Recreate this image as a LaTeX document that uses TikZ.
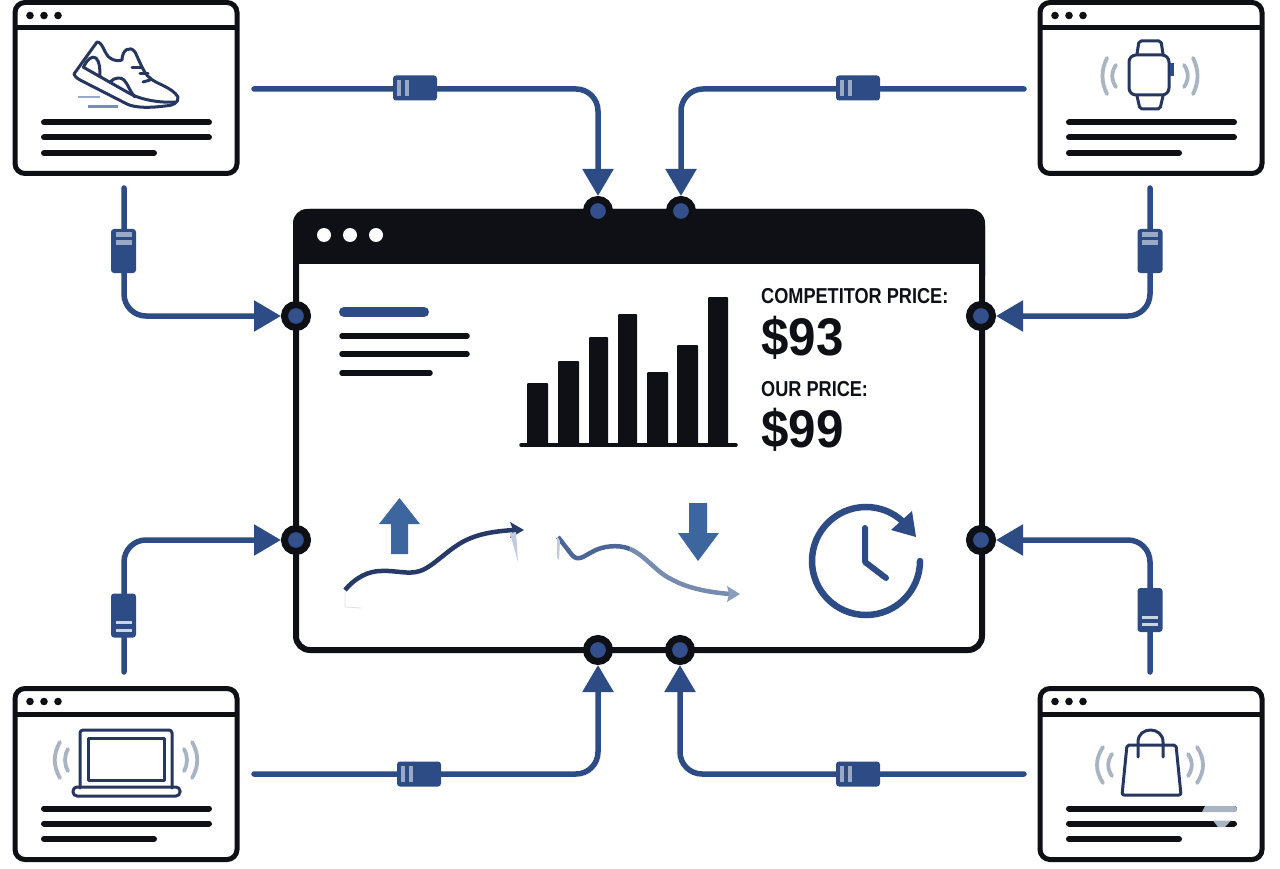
\documentclass[tikz,border=0pt]{standalone}
\usepackage{fontspec}
\setmainfont{Liberation Sans}
\newfontfamily\labelfont[FakeStretch=0.84]{Liberation Sans}
\newfontfamily\pricefont[FakeStretch=0.93]{Liberation Sans}
\usetikzlibrary{arrows.meta}
\definecolor{ink}{HTML}{0E1015}
\definecolor{navy}{HTML}{2D4C85}
\definecolor{portblue}{HTML}{34508C}
\definecolor{steel}{HTML}{3D669F}
\definecolor{iconblue}{HTML}{26365F}
\definecolor{wave}{HTML}{A9B4C2}
\definecolor{barlight}{HTML}{9AA9C6}
\tikzstyle{window} = [
    rectangle,
    rounded corners=10pt,
    minimum width=222pt,
    minimum height=171pt,
    line width=5pt,
    draw=ink
]
\tikzstyle{mainwindow} = [
    rectangle,
    rounded corners=14pt,
    minimum width=686pt,
    minimum height=438pt,
    line width=6pt,
    draw=ink
]
\tikzstyle{port} = [
    circle,
    inner sep=0pt,
    minimum size=23pt,
    line width=7pt,
    draw=ink,
    fill=portblue
]
\tikzstyle{plugv} = [
    rectangle,
    rounded corners=3pt,
    minimum width=25pt,
    minimum height=44pt,
    fill=navy
]
\tikzstyle{plugh} = [
    rectangle,
    rounded corners=3pt,
    minimum width=44pt,
    minimum height=25pt,
    fill=navy
]
\tikzstyle{plugbar} = [fill=barlight]
\tikzstyle{plugbarpale} = [fill=barlight!50!white]
\tikzstyle{link} = [
    line width=5.5pt,
    draw=navy,
    rounded corners=22pt,
    line cap=round,
    -{Triangle[length=27pt,width=30pt]}
]
\tikzstyle{textline} = [line width=6pt,draw=ink,line cap=round]
\tikzstyle{bodyline} = [line width=5.5pt,draw=ink,line cap=round]
\tikzstyle{icon} = [line width=3pt,draw=iconblue,line cap=round,line join=round]
\tikzstyle{waveline} = [line width=3.8pt,draw=wave,line cap=round]
\tikzstyle{bar} = [fill=ink,rounded corners=1pt]
\tikzstyle{caption} = [anchor=base west,inner sep=0pt,text=ink]
\newcommand{\pagewin}[3]{
    \node (#1) [window] at (#2,#3) {};
    \draw [line width=5pt,draw=ink] (#2-111,#3-60) -- (#2+111,#3-60);
    \foreach \dotx in {-96,-82,-68}
        \fill [ink] (#2+\dotx,#3-72.5) circle (3.8pt);
    \draw [textline] (#2-82,#3+34.5) -- (#2+83,#3+34.5);
    \draw [textline] (#2-82,#3+49.5) -- (#2+83,#3+49.5);
    \draw [textline] (#2-82,#3+65) -- (#2+28,#3+65);
}
\newcommand{\wavepair}[6]{
    \draw [waveline] (#1-#3,#2-18) .. controls (#1-#3-#4,#2-6) and (#1-#3-#4,#2+6) .. (#1-#3,#2+18);
    \draw [waveline] (#1-#5,#2-11) .. controls (#1-#5-#6,#2-4) and (#1-#5-#6,#2+4) .. (#1-#5,#2+11);
    \draw [waveline] (#1+#3,#2-18) .. controls (#1+#3+#4,#2-6) and (#1+#3+#4,#2+6) .. (#1+#3,#2+18);
    \draw [waveline] (#1+#5,#2-11) .. controls (#1+#5+#6,#2-4) and (#1+#5+#6,#2+4) .. (#1+#5,#2+11);
}
\begin{document}
\begin{tikzpicture}[x=1pt,y=-1pt]

\useasboundingbox (0,0) rectangle (1280,869);

\fill [white] (0,0) rectangle (1280,869);

\pagewin{shoewin}{126}{88}
\pagewin{watchwin}{1151}{88}
\pagewin{laptopwin}{126}{774}
\pagewin{bagwin}{1151}{774}

\fill [wave] (1205,806) -- (1234,806) arc[start angle=90,end angle=-90,radius=3pt] -- (1202,812) -- cycle;
\fill [wave] (1213,820.5) -- (1231,820.5) -- (1225,827) -- (1218,827) -- cycle;

\fill [ink,rounded corners=14pt] (293,209) rectangle (985,290);
\fill [white] (299,264) rectangle (979,300);
\node (hub) [mainwindow] at (639,431) {};
\foreach \dotx in {324,350,376}
    \fill [white] (\dotx,235) circle (7pt);

\node (topa) [port] at (598,211) {};
\node (topb) [port] at (681,211) {};
\node (lefta) [port] at (296,316) {};
\node (leftb) [port] at (296,540) {};
\node (righta) [port] at (981,316) {};
\node (rightb) [port] at (981,540) {};
\node (bota) [port] at (598,650) {};
\node (botb) [port] at (680,650) {};

\coordinate (shoeout) at (254,89);
\coordinate (shoedown) at (124,188);
\coordinate (watchout) at (1024,89);
\coordinate (watchdown) at (1150,188);
\coordinate (laptopout) at (254,774);
\coordinate (laptopup) at (124,672);
\coordinate (bagout) at (1024,774);
\coordinate (bagup) at (1150,672);

\draw [link] (shoeout) -| (topa);
\draw [link] (watchout) -| (topb);
\draw [link] (shoedown) |- (lefta);
\draw [link] (watchdown) |- (righta);
\draw [link] (laptopup) |- (leftb);
\draw [link] (bagup) |- (rightb);
\draw [link] (laptopout) -| (bota);
\draw [link] (bagout) -| (botb);

\node (plugshoe) [plugh] at (415,88) {};
\node (plugwatch) [plugh] at (858,88) {};
\node (pluglaptop) [plugh] at (419,774) {};
\node (plugbag) [plugh] at (858,774) {};
\node (plugshoev) [plugv] at (123.5,251) {};
\node (plugwatchv) [plugv] at (1150,251) {};
\node (pluglaptopv) [plugv] at (123.5,615.5) {};
\node (plugbagv) [plugv] at (1150,610) {};

\foreach \plugx/\plugy in {415/88,858/88,419/774,858/774} {
    \fill [plugbar] (\plugx-18,\plugy-8) rectangle (\plugx-14,\plugy+8);
    \fill [plugbar] (\plugx-10,\plugy-8) rectangle (\plugx-6,\plugy+8);
}
\foreach \plugx/\plugy in {123.5/251,1150/251} {
    \fill [plugbar] (\plugx-8,\plugy-19) rectangle (\plugx+8,\plugy-14);
    \fill [plugbar] (\plugx-8,\plugy-11) rectangle (\plugx+8,\plugy-6);
}
\foreach \plugx/\plugy in {123.5/615.5,1150/610} {
    \fill [plugbarpale] (\plugx-8,\plugy+5.5) rectangle (\plugx+8,\plugy+8.5);
    \fill [plugbarpale] (\plugx-8,\plugy+13) rectangle (\plugx+8,\plugy+16);
}

\draw [icon] (74,74) -- (97,42) .. controls (103,42) and (104,54) .. (110,58) .. controls (114,61) and (119,61) .. (122,60) .. controls (122,50) and (130,45) .. (135,52) .. controls (140,62) and (144,74) .. (150,78) .. controls (156,84) and (172,87) .. (178,97) .. controls (179,103) and (172,106) .. (165,106) .. controls (150,108) and (135,108) .. (127,104) -- (82,81) .. controls (78,79) and (75,77) .. (74,74) -- cycle;
\draw [icon] (83,67) -- (127,92) .. controls (140,100) and (160,103) .. (175,102);
\draw [icon] (84,66) .. controls (87,60) and (92,55) .. (96,58) .. controls (100,62) and (100,70) .. (100,76);
\draw [icon] (110,82) .. controls (115,77) and (121,77) .. (124,80) .. controls (128,84) and (130,92) .. (135,97);
\draw [icon] (132,68) -- (142,68);
\draw [icon] (140,74) -- (148,74);
\draw [icon] (143,82) -- (150,80);
\draw [line width=2.4pt,draw=barlight] (78,97) -- (100,97);
\draw [line width=2.4pt,draw=barlight!70!navy] (88,106.5) -- (118,106.5);

\draw [icon,rounded corners=7pt] (1129,55) rectangle (1169,95);
\draw [icon,rounded corners=2pt] (1137,54) -- (1139,41) -- (1161,41) -- (1163,54);
\draw [icon,rounded corners=2pt] (1137,96) -- (1140,109) -- (1160,109) -- (1163,96);
\fill [navy] (1170,63) rectangle (1174,76);
\wavepair{1150}{76}{43}{6}{34}{5}

\draw [icon,rounded corners=3pt] (80,788) -- (80,730) -- (172,730) -- (172,788);
\draw [icon] (88,738) rectangle (164,780);
\draw [icon,rounded corners=4pt] (73,787) -- (180,787) -- (180,796) -- (73,796) -- cycle;
\wavepair{126}{760}{66}{7}{58}{4}

\draw [icon,rounded corners=2pt] (1127,745) -- (1176,745) -- (1181,795) -- (1122,795) -- cycle;
\draw [icon] (1138,757) -- (1138,742) .. controls (1138,726) and (1163,726) .. (1163,742) -- (1163,757);
\wavepair{1150}{765}{47}{8}{38}{5}

\draw [line width=10pt,draw=navy,line cap=round] (344,312) -- (424,312);
\draw [bodyline] (342,336) -- (467,336);
\draw [bodyline] (342,354) -- (467,354);
\draw [bodyline] (342,373) -- (430,373);

\foreach \barl/\barr/\bartop in {527/548/383,558/579/361,589/608/337,618/637/314,647/668/372,677/698/345,708/728/297}
    \fill [bar] (\barl,445) rectangle (\barr,\bartop);
\draw [line width=3.5pt,draw=ink,line cap=round] (521,445) -- (736,445);

\node (complabel) [caption] at (761,303) {\labelfont\bfseries\fontsize{21.6}{24}\selectfont COMPETITOR PRICE:};
\node (compprice) [caption] at (761,355) {\pricefont\bfseries\fontsize{53}{56}\selectfont \$93};
\node (ourlabel) [caption] at (761,396) {\labelfont\bfseries\fontsize{21.6}{24}\selectfont OUR PRICE:};
\node (ourprice) [caption] at (761,447) {\pricefont\bfseries\fontsize{53}{56}\selectfont \$99};

\fill [steel] (399.5,498) -- (420,524) -- (408,524) -- (408,554) -- (391,554) -- (391,524) -- (379,524) -- cycle;
\fill [steel] (689,503) -- (707,503) -- (707,533) -- (719,533) -- (698,561) -- (678,533) -- (689,533) -- cycle;

\draw [line width=4.5pt,draw=iconblue!80!navy] (345,590) .. controls (355,578) and (368,571) .. (381,571) .. controls (395,570) and (408,575) .. (420,571) .. controls (435,566) and (450,546) .. (471,538) .. controls (483,533) and (498,531) .. (514,530);
\fill [iconblue!80!navy] (524,530) -- (510,522) -- (513,530) -- (510,538) -- cycle;
\fill [barlight!60!white] (510,533) -- (516,532) -- (518,562) -- cycle;
\draw [line width=0.8pt,draw=black!12] (345,592) -- (345,607) -- (361,608);

\draw [line width=4.5pt,draw=navy!85!white] (558,537) -- (572,555) .. controls (578,562) and (584,556) .. (592,552) .. controls (602,546) and (618,544) .. (630,549);
\draw [line width=4.5pt,draw=navy!65!white] (630,549) .. controls (646,556) and (656,572) .. (671,579) .. controls (685,587) and (705,592) .. (730,594);
\fill [navy!55!white] (740,594) -- (727,586) -- (729,594) -- (727,602) -- cycle;
\fill [barlight!60!white] (557,536) -- (560,541) -- (559,560) -- (557,558) -- cycle;

\draw [line width=6.5pt,draw=navy,line cap=round] (920,561) arc[start angle=0,end angle=-312,radius=54pt];
\fill [navy] (912,511) -- (916,537) -- (891,530) -- cycle;
\draw [line width=6pt,draw=navy,line cap=round,line join=round] (865,528) -- (865,562) -- (886,578);

\end{tikzpicture}
\end{document}
